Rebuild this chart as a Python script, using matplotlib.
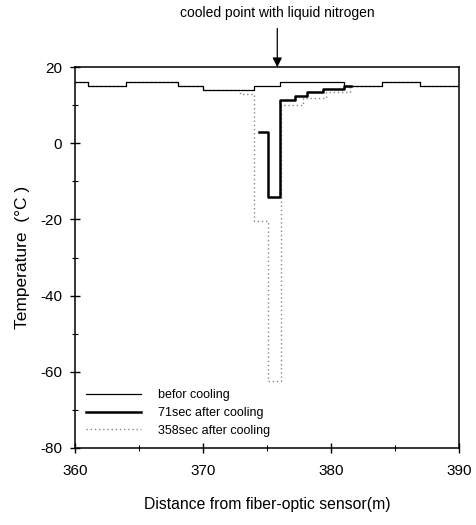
import matplotlib
matplotlib.use("Agg")
import matplotlib.pyplot as plt
from matplotlib.ticker import MultipleLocator

plt.rcParams['font.family'] = ['Liberation Sans', 'DejaVu Sans']
plt.rcParams['axes.unicode_minus'] = False

# step edges (m) and temperatures (degC)
before_x = [360, 361, 364, 368, 370, 374, 376, 381, 384, 387, 390]
before_t = [16, 15, 16, 15, 14, 15, 16, 15, 16, 15, 15]

# 71 sec trace: only the part that leaves the "before" curve shows as a heavy line
after71_x = [374.4, 375.1, 376, 377.2, 378.1, 379.4, 381, 381.6]
after71_t = [3, -14, 11.5, 12.4, 13.5, 14.2, 15, 15]

after358_x = [360, 361, 364, 368, 370, 372.9, 374, 375.1, 376.1, 377.8, 379.6, 381.5, 384, 387, 390]
after358_t = [16, 15, 16, 15, 14, 13, -20.5, -62.5, 10, 12, 13.5, 15, 16, 15, 15]

labels = ["befor cooling", "71sec after cooling", "358sec after cooling"]
cooled_x = 375.8

fig = plt.figure(figsize=(4.76, 5.25), dpi=100)
ax = fig.add_axes([0.158, 0.147, 0.806, 0.725])

l3, = ax.plot(after358_x, after358_t, drawstyle='steps-post', color='#888888',
              lw=1.0, linestyle=(0, (1, 2)), label=labels[2])
l1, = ax.plot(before_x, before_t, drawstyle='steps-post', color='black',
              lw=0.9, label=labels[0])
l2, = ax.plot(after71_x, after71_t, drawstyle='steps-post', color='black',
              lw=1.8, label=labels[1])

ax.set_xlim(360, 390)
ax.set_ylim(-80, 20)
ax.xaxis.set_major_locator(MultipleLocator(10))
ax.xaxis.set_minor_locator(MultipleLocator(5))
ax.yaxis.set_major_locator(MultipleLocator(20))
ax.yaxis.set_minor_locator(MultipleLocator(10))
ax.tick_params(which='major', direction='inout', length=7, width=1, labelsize=11)
ax.tick_params(axis='x', which='major', pad=8)
ax.tick_params(axis='y', which='major', pad=6)
ax.tick_params(which='minor', direction='inout', length=4, width=0.8)
for s in ax.spines.values():
    s.set_linewidth(1.1)

ax.set_xlabel("Distance from fiber-optic sensor(m)", fontsize=11.3, labelpad=14)
ax.set_ylabel("Temperature  (°C )", fontsize=12.5, labelpad=7)

ax.legend(handles=[l1, l2, l3], loc='lower left', bbox_to_anchor=(0.0, 0.0),
          frameon=False, fontsize=9, handlelength=4.4, handletextpad=1.3,
          labelspacing=0.45)

ax.annotate("cooled point with liquid nitrogen", xy=(cooled_x, 20),
            xytext=(0, 39), textcoords='offset points', ha='center', va='center',
            fontsize=10, annotation_clip=False,
            arrowprops=dict(arrowstyle='-|>', color='black', lw=0.9,
                            mutation_scale=14, shrinkA=4, shrinkB=0))

fig.savefig("out.png", dpi=100)
